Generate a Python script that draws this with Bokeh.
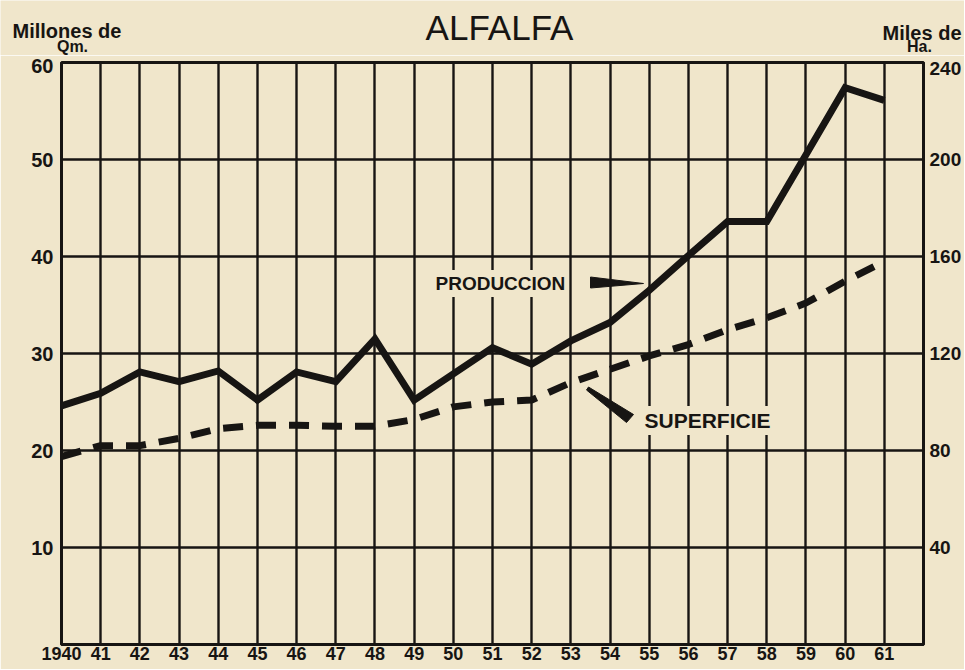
from bokeh.plotting import figure
from bokeh.models import (Range1d, LinearAxis, FixedTicker, Label)
from bokeh.embed import file_html
from bokeh.resources import INLINE

# ---------------- data ----------------
years = list(range(1940, 1962))
produccion_mqm = [24.6, 25.9, 28.1, 27.1, 28.2, 25.2, 28.1, 27.1, 31.5, 25.2, 27.9,
                  30.6, 28.9, 31.3, 33.2, 36.5, 40.1, 43.6, 43.6, 50.5, 57.4, 56.1]
superficie_mha = [77.5, 82, 82, 85, 89, 90.4, 90.4, 90, 90, 92.8, 98,
                  100, 100.8, 108, 113.5, 119, 123.7, 129.8, 134.7, 140.8, 149.8, 158]
left_ticks = [10, 20, 30, 40, 50, 60]
right_ticks = [40, 80, 120, 160, 200, 240]
x_tick_labels = {1940: "1940"}
for yv in range(1941, 1962):
    x_tick_labels[yv] = str(yv - 1900)

title_text = "ALFALFA"
left_unit = ["Millones de", "Qm."]
right_unit = ["Miles de", "Ha."]
label_prod = "PRODUCCION"
label_sup = "SUPERFICIE"

# ---------------- style ----------------
INK = "#171513"
PAPER = "#f0e6cb"
W, H = 964, 669
HH = 55                                    # header strip height
FL, FR, FT, FB = 61, 923, 62, 644          # frame edges on the page
BL, BR, BT, BB = FL, W - FR, FT - HH, H - FB
FW, FH = FR - FL, FB - FT
X0, X1, Y0, Y1 = 1940, 1962, 0, 60
HA_PER_QM = 4
FONT = "Liberation Sans"
LEFT_TOP_DROP = 0.4     # the topmost scale numbers sit a little below the top rule
RIGHT_TOP_DROP = 2.6


def px(x_page, y_page):
    """page pixel -> data coords (for annotations only)"""
    return (X0 + (x_page - FL) * (X1 - X0) / FW,
            Y1 - (y_page - FT) * (Y1 - Y0) / FH)


# ---------------- header strip (title + unit labels) ----------------
hdr = figure(width=W, height=HH, output_backend="svg", toolbar_location=None,
             x_range=Range1d(0, W), y_range=Range1d(HH, 0),
             x_axis_type=None, y_axis_type=None,
             min_border=0, min_border_left=0, min_border_right=0,
             min_border_top=0, min_border_bottom=0,
             background_fill_color=PAPER, border_fill_color=PAPER,
             outline_line_color=None)
hdr.grid.visible = False


def hdr_label(txt, xp, yp, size, align="left", weight="bold"):
    hdr.add_layout(Label(x=xp, y=yp, text=txt, text_font=FONT, text_font_size=size,
                         text_font_style=weight, text_color=INK, text_align=align,
                         text_baseline="middle"))


hdr_label(title_text, 499, 27, "35px", align="center", weight="normal")
hdr_label(left_unit[0], 12, 30, "20px")
hdr_label(left_unit[1], 72, 46, "16px", align="center")
hdr_label(right_unit[0], 961, 32, "20px", align="right")
hdr_label(right_unit[1], 919, 46, "16px", align="center")

# ---------------- main chart ----------------
p = figure(width=W, height=H - HH, output_backend="svg", toolbar_location=None,
           x_range=Range1d(X0, X1), y_range=Range1d(Y0, Y1),
           min_border_left=BL, min_border_right=BR, min_border_top=BT,
           min_border_bottom=BB, background_fill_color=PAPER,
           border_fill_color=PAPER, outline_line_color=INK,
           outline_line_width=3)
p.extra_y_ranges = {"ha": Range1d(Y0 * HA_PER_QM, Y1 * HA_PER_QM)}

p.xaxis.ticker = FixedTicker(ticks=years)
p.xaxis.major_label_overrides = x_tick_labels

# left scale (top number nudged down as printed)
lt = [t if t != Y1 else t - LEFT_TOP_DROP for t in left_ticks]
p.yaxis.ticker = FixedTicker(ticks=lt)
p.yaxis.major_label_overrides = {t: str(o) for t, o in zip(lt, left_ticks)}

rt = [t if t != Y1 * HA_PER_QM else t - RIGHT_TOP_DROP for t in right_ticks]
right_axis = LinearAxis(y_range_name="ha", ticker=FixedTicker(ticks=rt))
right_axis.major_label_overrides = {t: str(o) for t, o in zip(rt, right_ticks)}
p.add_layout(right_axis, "right")

for ax in [p.xaxis[0], p.yaxis[0], right_axis]:
    ax.axis_line_color = INK
    ax.axis_line_width = 3
    ax.major_tick_line_color = None
    ax.minor_tick_line_color = None
    ax.major_tick_out = 0
    ax.major_tick_in = 0
    ax.major_label_text_font = FONT
    ax.major_label_text_font_style = "bold"
    ax.major_label_text_color = INK
    ax.major_label_text_font_size = "20px"
p.xaxis.major_label_standoff = 2
p.xaxis.major_label_text_font_size = "18px"
right_axis.major_label_text_font_size = "19px"
p.yaxis[0].major_label_standoff = 8
right_axis.major_label_standoff = 6

p.xgrid.ticker = FixedTicker(ticks=years[1:])
p.ygrid.ticker = FixedTicker(ticks=left_ticks[:-1])
for g in [p.xgrid[0], p.ygrid[0]]:
    g.grid_line_color = INK
    g.grid_line_width = 2.4
    g.grid_line_alpha = 1

# series
p.line(years, superficie_mha, y_range_name="ha", line_color=INK, line_width=7,
       line_dash="20 13", line_cap="butt")
p.line(years, produccion_mqm, line_color=INK, line_width=7, line_join="miter")

# pointer wedges
a = px(590, 276.5); b = px(590, 287.5); c = px(643, 283)
p.patch([a[0], b[0], c[0]], [a[1], b[1], c[1]], fill_color=INK, line_color=INK)
a = px(588, 386.5); b = px(586, 389.5); c = px(626, 422); d = px(633, 414)
p.patch([a[0], b[0], c[0], d[0]], [a[1], b[1], c[1], d[1]], fill_color=INK, line_color=INK)


def add_label(txt, xp, yp, size, align="left", weight="bold"):
    x, y = px(xp, yp)
    p.add_layout(Label(x=x, y=y, text=txt, text_font=FONT, text_font_size=size,
                       text_font_style=weight, text_color=INK, text_align=align,
                       text_baseline="middle", background_fill_color=PAPER,
                       padding=3))


add_label(label_prod, 432, 283, "19px")
add_label(label_sup, 641, 420, "21px")

html = file_html([hdr, p], INLINE)
html = html.replace("<body>", '<body style="background:%s">' % PAPER, 1)
open("out.html", "w").write(html)
